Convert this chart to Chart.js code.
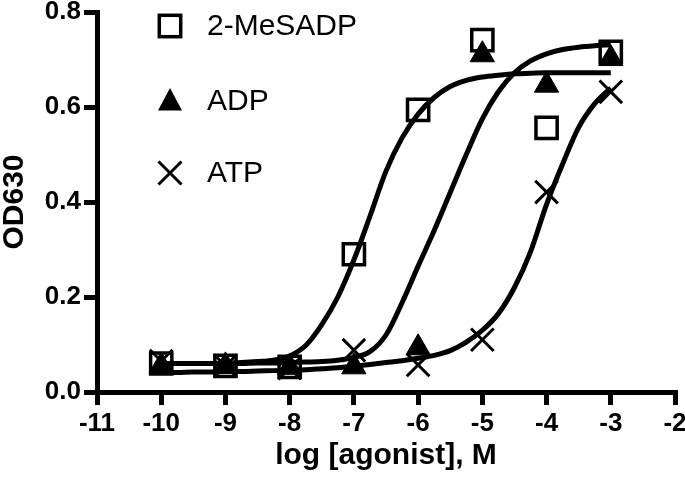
<!DOCTYPE html>
<html>
<head>
<meta charset="utf-8">
<title>OD630 vs log [agonist]</title>
<script src="https://cdn.jsdelivr.net/npm/chart.js@4.4.1/dist/chart.umd.min.js"></script>
<style>
    body { margin: 0; background: #fff; }
    #wrap { width: 685px; height: 483px; position: relative; }
</style>
</head>
<body>
<div id="wrap"><canvas id="doseChart"></canvas></div>
<script>
// Measured points (log M vs OD630)
const doseX = [-10, -9, -8, -7, -6, -5, -4, -3];
const meSADP = [0.060, 0.055, 0.053, 0.290, 0.594, 0.741, 0.556, 0.716];
const adp = [0.055, 0.055, 0.052, 0.053, 0.093, 0.710, 0.646, 0.702];
const atp = [0.065, 0.055, 0.050, 0.088, 0.057, 0.110, 0.421, 0.632];

// Fitted curves, every 0.25 log units
const curveX = [-10, -9.75, -9.5, -9.25, -9, -8.75, -8.5, -8.25, -8, -7.75, -7.5, -7.25, -7,
    -6.75, -6.5, -6.25, -6, -5.75, -5.5, -5.25, -5, -4.75, -4.5, -4.25, -4, -3.75, -3.5, -3.25, -3];
const fitA = [0.060, 0.060, 0.060, 0.060, 0.061, 0.062, 0.064, 0.067, 0.076, 0.098, 0.142, 0.200, 0.278,
    0.370, 0.465, 0.535, 0.585, 0.620, 0.643, 0.656, 0.663, 0.667, 0.670, 0.671, 0.672, 0.672, 0.672, 0.672, 0.672];
const fitB = [0.060, 0.060, 0.060, 0.060, 0.060, 0.060, 0.061, 0.061, 0.062, 0.063, 0.064, 0.067, 0.073,
    0.085, 0.120, 0.188, 0.265, 0.340, 0.420, 0.500, 0.575, 0.632, 0.672, 0.697, 0.712, 0.721, 0.726, 0.729, 0.731];
const fitC = [0.041, 0.041, 0.042, 0.042, 0.043, 0.043, 0.044, 0.045, 0.046, 0.047, 0.049, 0.051, 0.054,
    0.058, 0.062, 0.066, 0.071, 0.077, 0.087, 0.105, 0.130, 0.165, 0.220, 0.295, 0.395, 0.480, 0.557, 0.607, 0.640];

const legendNames = ['2-MeSADP', 'ADP', 'ATP'];

function toPoints(xs, ys) {
    return xs.map((x, i) => ({ x: x, y: ys[i] }));
}

function curve(ys) {
    return {
        type: 'line',
        data: toPoints(curveX, ys),
        borderColor: '#000',
        borderWidth: 5,
        pointRadius: 0,
        cubicInterpolationMode: 'monotone',
        fill: false,
        order: 2
    };
}

// Draws the legend inside the plot, top left
const innerLegend = {
    id: 'innerLegend',
    afterDraw(chart) {
        const ctx = chart.ctx;
        const sx = 170;
        const rows = [26, 101, 173];
        ctx.save();
        ctx.strokeStyle = '#000';
        ctx.fillStyle = '#000';
        ctx.lineWidth = 3.5;
        // square
        ctx.strokeRect(sx - 10.7, rows[0] - 10.7, 21.4, 21.4);
        // triangle
        ctx.beginPath();
        ctx.moveTo(sx, rows[1] - 13);
        ctx.lineTo(sx + 12, rows[1] + 9.5);
        ctx.lineTo(sx - 12, rows[1] + 9.5);
        ctx.closePath();
        ctx.fill();
        // cross
        ctx.lineWidth = 3;
        ctx.beginPath();
        ctx.moveTo(sx - 11.5, rows[2] - 11.5);
        ctx.lineTo(sx + 11.5, rows[2] + 11.5);
        ctx.moveTo(sx + 11.5, rows[2] - 11.5);
        ctx.lineTo(sx - 11.5, rows[2] + 11.5);
        ctx.stroke();
        // labels
        ctx.font = '30px "Liberation Sans", Arial, sans-serif';
        ctx.textBaseline = 'middle';
        ctx.textAlign = 'left';
        legendNames.forEach((name, i) => {
            ctx.fillText(name, 207, rows[i] + 1);
        });
        ctx.restore();
    }
};

const tickFont = { family: '"Liberation Sans", Arial, sans-serif', size: 26, weight: 'bold' };
const titleFont = { family: '"Liberation Sans", Arial, sans-serif', size: 30, weight: 'bold', lineHeight: 1.2 };

new Chart(document.getElementById('doseChart'), {
    type: 'scatter',
    data: {
        datasets: [
            {
                label: legendNames[0],
                data: toPoints(doseX, meSADP),
                pointStyle: 'rect',
                pointRadius: 15,
                pointBorderWidth: 3.5,
                pointBackgroundColor: 'rgba(0,0,0,0)',
                pointBorderColor: '#000',
                order: 0
            },
            {
                label: legendNames[1],
                data: toPoints(doseX, adp),
                pointStyle: 'triangle',
                pointRadius: 14,
                pointBorderWidth: 1,
                pointBackgroundColor: '#000',
                pointBorderColor: '#000',
                order: 0
            },
            {
                label: legendNames[2],
                data: toPoints(doseX, atp),
                pointStyle: 'crossRot',
                pointRadius: 16,
                pointBorderWidth: 3,
                pointBorderColor: '#000',
                order: 0
            },
            curve(fitA),
            curve(fitB),
            curve(fitC)
        ]
    },
    options: {
        responsive: true,
        maintainAspectRatio: false,
        animation: false,
        layout: {
            autoPadding: false,
            padding: { top: 12, right: 10, left: 0, bottom: 0 }
        },
        plugins: {
            legend: { display: false },
            tooltip: { enabled: false }
        },
        scales: {
            x: {
                type: 'linear',
                min: -11,
                max: -2,
                afterFit: function(scale) {
                    scale.height = 91;
                    scale.paddingLeft = 0;
                    scale.paddingRight = 0;
                },
                ticks: {
                    stepSize: 1,
                    color: '#000',
                    font: tickFont,
                    padding: 3
                },
                grid: {
                    drawOnChartArea: false,
                    drawTicks: true,
                    lineWidth: 5,
                    tickLength: 13,
                    tickWidth: 5,
                    tickColor: '#000'
                },
                border: { display: true, width: 5, color: '#000' },
                title: {
                    display: true,
                    text: 'log [agonist], M',
                    color: '#000',
                    font: titleFont,
                    padding: { top: 0, bottom: 9 }
                }
            },
            y: {
                min: 0,
                max: 0.8,
                afterFit: function(scale) {
                    scale.width = 97;
                    scale.paddingTop = 0;
                    scale.paddingBottom = 0;
                },
                ticks: {
                    stepSize: 0.2,
                    color: '#000',
                    font: tickFont,
                    padding: 3,
                    callback: function(v) { return v.toFixed(1); }
                },
                grid: {
                    drawOnChartArea: false,
                    drawTicks: true,
                    lineWidth: 5,
                    tickLength: 13,
                    tickWidth: 5,
                    tickColor: '#000'
                },
                border: { display: true, width: 5, color: '#000' },
                title: {
                    display: true,
                    text: 'OD630',
                    color: '#000',
                    font: { family: '"Liberation Sans", Arial, sans-serif', size: 30, weight: 'bold', lineHeight: 1 },
                    padding: { top: 0, bottom: 0 }
                }
            }
        }
    },
    plugins: [innerLegend]
});
</script>
</body>
</html>
